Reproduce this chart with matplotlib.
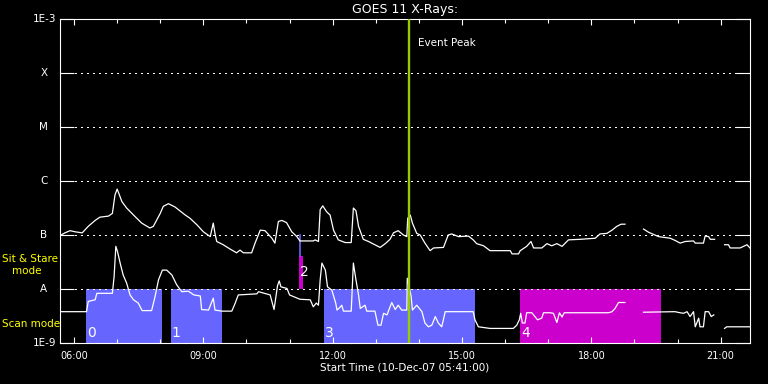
import numpy as np
import matplotlib
matplotlib.use('Agg')
import matplotlib.pyplot as plt
from matplotlib.ticker import FixedLocator, NullLocator

nan = np.nan

# time in hours of 10-Dec-07, flux as log10(W/m^2)
# long channel (1-8 A)
hi_t = [5.70, 5.79, 5.91, 6.02, 6.19, 6.33, 6.49, 6.60, 6.80, 6.89,
        6.95, 7.00, 7.04, 7.11, 7.22, 7.38, 7.57, 7.76, 7.84, 8.00,
        8.07, 8.19, 8.34, 8.58, 8.69, 8.85, 9.00, 9.16, 9.23, 9.27,
        9.31, 9.46, 9.62, 9.77, 9.85, 9.93, 10.12, 10.20, 10.32, 10.43,
        10.59, 10.66, 10.74, 10.82, 10.93, 11.05, 11.17, 11.24, 11.55, 11.59,
        11.67, 11.71, 11.77, 11.86, 11.94, 12.02, 12.13, 12.29, 12.43, 12.48,
        12.54, 12.60, 12.71, 12.83, 12.98, 13.10, 13.22, 13.33, 13.41, 13.52,
        13.64, 13.72, 13.74, 13.80, 13.85, 13.95, 14.03, 14.14, 14.26, 14.34,
        14.57, 14.68, 14.76, 14.92, 15.15, 15.26, 15.34, 15.50, 15.65, 16.12,
        16.16, 16.31, 16.35, 16.50, 16.60, 16.66, 16.85, 16.97, 17.08, 17.20,
        17.32, 17.47, 17.74, 18.09, 18.20, 18.36, 18.48, 18.59, 18.69, 18.78,
        nan, 19.21, 19.33, 19.56, 19.83, 19.94, 20.06, 20.18, 20.37, 20.41,
        20.60, 20.64, 20.72, 20.76, 20.86,
        nan, 21.09, 21.18, 21.22, 21.45, 21.61, 21.68]
hi_log = [-7.00, -6.96, -6.92, -6.94, -6.96, -6.84, -6.73, -6.67, -6.65, -6.60,
          -6.26, -6.15, -6.23, -6.38, -6.50, -6.63, -6.78, -6.87, -6.84, -6.60,
          -6.47, -6.42, -6.48, -6.63, -6.69, -6.81, -6.94, -7.03, -6.78, -6.97,
          -7.12, -7.18, -7.26, -7.33, -7.28, -7.33, -7.33, -7.15, -6.91, -6.92,
          -7.06, -7.15, -6.75, -6.73, -6.77, -6.94, -7.03, -7.11, -7.11, -7.09,
          -7.12, -6.53, -6.46, -6.57, -6.63, -6.91, -7.09, -7.14, -7.14, -6.50,
          -6.55, -6.84, -7.08, -7.12, -7.18, -7.23, -7.16, -7.08, -6.96, -6.92,
          -7.00, -7.03, -6.69, -6.63, -6.78, -6.97, -7.00, -7.15, -7.29, -7.24,
          -7.23, -7.00, -6.98, -7.03, -7.02, -7.09, -7.16, -7.20, -7.29, -7.29,
          -7.35, -7.35, -7.29, -7.21, -7.12, -7.24, -7.24, -7.16, -7.20, -7.16,
          -7.21, -7.09, -7.08, -7.06, -6.98, -6.97, -6.91, -6.84, -6.80, -6.80,
          nan, -6.89, -6.95, -7.03, -7.06, -7.10, -7.15, -7.12, -7.11, -7.15,
          -7.15, -7.02, -7.03, -7.08, -7.08,
          nan, -7.18, -7.18, -7.24, -7.24, -7.18, -7.24]

# short channel (0.5-4 A)
lo_t = [5.70, 6.29, 6.33, 6.49, 6.53, 6.89, 6.93, 6.97, 7.01, 7.07,
        7.14, 7.22, 7.30, 7.38, 7.49, 7.58, 7.80, 7.88, 7.96, 8.05,
        8.15, 8.27, 8.38, 8.50, 8.65, 8.78, 8.93, 8.96, 9.12, 9.23,
        9.27, 9.43, 9.66, 9.74, 9.81, 10.24, 10.28, 10.55, 10.64, 10.72,
        10.76, 10.80, 10.94, 11.00, 11.24, 11.48, 11.55, 11.62, 11.67, 11.71,
        11.75, 11.83, 11.88, 11.98, 12.07, 12.10, 12.18, 12.21, 12.25, 12.43,
        12.48, 12.54, 12.60, 12.64, 12.75, 12.79, 12.98, 13.05, 13.12, 13.18,
        13.26, 13.37, 13.45, 13.52, 13.60, 13.72, 13.73, 13.78, 13.82, 13.85,
        13.95, 14.07, 14.14, 14.22, 14.30, 14.38, 14.45, 14.53, 14.61, 15.26,
        15.30, 15.38, 15.65, 16.19, 16.27, 16.33, 16.36, 16.40, 16.46, 16.50,
        16.62, 16.69, 16.75, 16.85, 16.89, 17.04, 17.12, 17.20, 17.26, 17.32,
        17.37, 18.40, 18.48, 18.55, 18.63, 18.78,
        nan, 19.21, 19.94, 20.06, 20.14, 20.22, 20.29, 20.37, 20.41, 20.49,
        20.52, 20.60, 20.64, 20.72, 20.78, 20.84,
        nan, 21.09, 21.14, 21.68]
lo_log = [-8.42, -8.42, -8.23, -8.20, -8.08, -8.08, -7.77, -7.21, -7.31, -7.52,
          -7.74, -7.89, -8.11, -8.20, -8.26, -8.40, -8.40, -8.14, -7.83, -7.65,
          -7.65, -7.74, -7.92, -8.05, -8.04, -8.11, -8.13, -8.38, -8.39, -8.17,
          -8.39, -8.41, -8.41, -8.26, -8.11, -8.09, -8.05, -8.11, -8.38, -7.94,
          -7.85, -7.96, -7.99, -8.11, -8.19, -8.20, -8.33, -8.26, -8.30, -7.83,
          -7.52, -7.65, -7.96, -8.02, -8.26, -8.39, -8.33, -8.30, -8.41, -8.41,
          -7.52, -7.83, -8.11, -8.36, -8.30, -8.41, -8.41, -8.67, -8.67, -8.45,
          -8.48, -8.25, -8.38, -8.30, -8.39, -8.39, -7.80, -7.99, -8.14, -8.39,
          -8.30, -8.42, -8.63, -8.70, -8.67, -8.51, -8.63, -8.70, -8.42, -8.42,
          -8.57, -8.70, -8.73, -8.73, -8.67, -8.57, -8.45, -8.63, -8.63, -8.44,
          -8.44, -8.51, -8.57, -8.54, -8.44, -8.44, -8.45, -8.62, -8.44, -8.52,
          -8.44, -8.44, -8.42, -8.36, -8.25, -8.25,
          nan, -8.43, -8.42, -8.44, -8.45, -8.42, -8.51, -8.42, -8.70, -8.54,
          -8.70, -8.70, -8.42, -8.42, -8.51, -8.48,
          nan, -8.73, -8.70, -8.70]

# observation blocks
block_id = ['0', '1', '3', '4']
block_start = [6.27, 8.24, 11.80, 16.35]
block_end = [8.03, 9.43, 15.30, 19.61]
block_mode = ['scan', 'scan', 'scan', 'stare']
stare2_t = [11.225, 11.318]     # block 2 (sit & stare)
stare2_log = [-8.0, -7.39]
peak_t = 13.77

levels = [-9, -8, -7, -6, -5, -4, -3]
level_names = ['1E-9', 'A', 'B', 'C', 'M', 'X', '1E-3']
hour_ticks = [6, 9, 12, 15, 18, 21]
hour_labels = ['06:00', '09:00', '12:00', '15:00', '18:00', '21:00']

mode_color = {'scan': '#6666ff', 'stare': '#cc00cc'}

fig = plt.figure(figsize=(7.68, 3.84), dpi=100, facecolor='black')
ax = fig.add_axes([60/768, 41/384, 690/768, 324/384], facecolor='black')
ax.set_yscale('log')
ax.set_xlim(5.675, 21.68)
ax.set_ylim(1e-9, 1e-3)

for i in range(len(block_id)):
    ax.fill_between([block_start[i], block_end[i]], 1e-9, 1e-8,
                    color=mode_color[block_mode[i]], lw=0, zorder=1)
    ax.text(block_start[i] + 0.03, 10**-8.81, block_id[i], color='white',
            fontsize=10, ha='left', va='center', zorder=6)
ax.fill_between(stare2_t, 10**stare2_log[0], 10**stare2_log[1],
                color=mode_color['stare'], lw=0, zorder=1)
ax.plot([stare2_t[0] + 0.012] * 2, [10**stare2_log[1], 1e-7],
        color=mode_color['scan'], lw=1.2, zorder=1)
ax.text(stare2_t[0] + 0.01, 10**-7.68, '2', color='white',
        fontsize=10, ha='left', va='center', zorder=6)

# dotted decade lines
for lev in levels[1:-1]:
    ax.axhline(10.0**lev, xmin=15/690, xmax=676/690, color='white', lw=0.7,
               linestyle=(0, (1.1, 5.1)), antialiased=False, zorder=2)

ax.plot(hi_t, 10.0**np.array(hi_log), color='white', lw=0.9, zorder=4)
ax.plot(lo_t, 10.0**np.array(lo_log), color='white', lw=0.9, zorder=4)

ax.axvline(peak_t, color='#99cc00', lw=1.7, zorder=5)
ax.text(peak_t + 0.2, 0.926, 'Event Peak', color='white', fontsize=7.5,
        ha='left', va='center', transform=ax.get_xaxis_transform())

# axes styling
for s in ax.spines.values():
    s.set_color('white')
    s.set_linewidth(0.8)
ax.yaxis.set_major_locator(FixedLocator([10.0**l for l in levels]))
ax.yaxis.set_minor_locator(NullLocator())
ax.tick_params(axis='y', which='major', direction='in', length=10, width=0.8,
               color='white', left=True, right=True, labelleft=False)
ax.xaxis.set_major_locator(FixedLocator(hour_ticks))
ax.xaxis.set_minor_locator(FixedLocator([h for h in range(6, 22) if h % 3 != 0]))
ax.set_xticklabels(hour_labels)
ax.tick_params(axis='x', which='major', direction='in', length=4.3, width=0.8,
               color='white', top=True, bottom=True, labelcolor='white',
               labelsize=7, pad=6)
ax.tick_params(axis='x', which='minor', direction='in', length=2.8, width=0.8,
               color='white', top=True, bottom=True)

ytr = ax.get_yaxis_transform()
for lev, name in zip(levels, level_names):
    if name.startswith('1E'):
        ax.text(-0.005, 10.0**lev, name, color='white', fontsize=7.5,
                ha='right', va='center', transform=ytr)
    else:
        ax.text(-0.0235, 10.0**lev, name, color='white', fontsize=7.5,
                ha='center', va='center', transform=ytr)

fig.text(2/768, 1 - 259/384, 'Sit & Stare', color='yellow', fontsize=7.5,
         ha='left', va='center')
fig.text(12/768, 1 - 271/384, 'mode', color='yellow', fontsize=7.5,
         ha='left', va='center')
fig.text(2/768, 1 - 324/384, 'Scan mode', color='yellow', fontsize=7.5,
         ha='left', va='center')

fig.text(405/768, 1 - 9.5/384, 'GOES 11 X-Rays:', color='white', fontsize=9,
         ha='center', va='center')
fig.text(405/768, 1 - 368/384, 'Start Time (10-Dec-07 05:41:00)', color='white',
         fontsize=7.5, ha='center', va='center')

fig.savefig('out.png', dpi=100, facecolor='black')
